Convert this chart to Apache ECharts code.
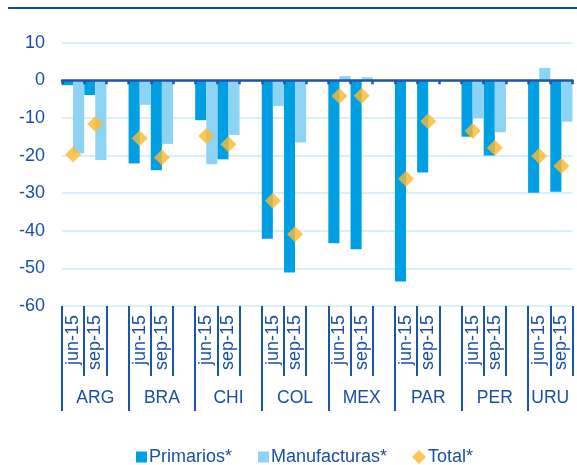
<!DOCTYPE html>
<html>
<head>
<meta charset="utf-8">
<script src="https://cdn.jsdelivr.net/npm/echarts@6/dist/echarts.min.js"></script>
<style>
  html, body { margin: 0; padding: 0; background: #ffffff; }
  #chart { width: 577px; height: 465px; }
</style>
</head>
<body>
<div id="chart"></div>
<script>
// Countries and the two periods shown for each of them
const countries = ['ARG', 'BRA', 'CHI', 'COL', 'MEX', 'PAR', 'PER', 'URU'];
const periods = ['jun-15', 'sep-15'];

// Values per country, in period order (jun-15, sep-15)
const primarios = [
  -1.3, -3.9,
  -22.1, -23.9,
  -10.6, -21.0,
  -42.1, -51.1,
  -43.3, -44.9,
  -53.5, -24.5,
  -15.0, -20.0,
  -29.9, -29.6
];
const manufacturas = [
  -19.4, -21.2,
  -6.5, -16.9,
  -22.3, -14.5,
  -6.8, -16.5,
  1.1, 0.8,
  null, null,
  -10.1, -13.8,
  3.3, -11.0
];
const total = [
  -19.7, -11.6,
  -15.4, -20.5,
  -14.8, -17.0,
  -32.0, -40.9,
  -4.2, -4.1,
  -26.2, -10.9,
  -13.5, -17.9,
  -20.1, -22.8
];

// Value axis ticks
const yTicks = { min: -60, max: 10, step: 10 };

// Legend entries
const seriesNames = ['Primarios*', 'Manufacturas*', 'Total*'];

// Slot layout: jun, sep, then an empty spacer between countries
const slots = [];
const slotPeriod = [];
const primSlots = [], manuSlots = [], totalSlots = [];
countries.forEach((c, ci) => {
  periods.forEach((p, pi) => {
    const k = ci * periods.length + pi;
    slots.push(c + ' ' + p);
    slotPeriod.push(p);
    primSlots.push(primarios[k]);
    manuSlots.push(manufacturas[k]);
    totalSlots.push(total[k]);
  });
  if (ci < countries.length - 1) {
    slots.push(c + ' ');
    slotPeriod.push('');
    primSlots.push(null);
    manuSlots.push(null);
    totalSlots.push(null);
  }
});

// Country group boundaries and label centres, in slot units
const groupStarts = [];
const groupCentres = {};
let pos = 0;
countries.forEach((c, ci) => {
  const width = periods.length + (ci < countries.length - 1 ? 1 : 0);
  groupStarts.push(pos);
  groupCentres[pos + width / 2] = c;
  pos += width;
});

const TEXT = '#1C4FA3';
const LINE = '#1A55AA';
const FONT = '"Liberation Sans", Arial, sans-serif';

// One legend block per entry so each can sit at its own place
const legendLefts = [131, 253, 407];
const legendIcons = ['rect', 'rect', 'diamond'];
const legends = seriesNames.map((name, i) => ({
  left: legendLefts[i],
  top: 443,
  itemWidth: i === 2 ? 14 : 11,
  itemHeight: i === 2 ? 14 : 11,
  textStyle: { fontFamily: FONT, fontSize: 18, color: TEXT, padding: [0, 0, 0, -3] },
  data: [{ name: name, icon: legendIcons[i] }]
}));

const chart = echarts.init(document.getElementById('chart'));
chart.setOption({
  animation: false,
  backgroundColor: '#ffffff',
  textStyle: { fontFamily: FONT },
  graphic: [{
    type: 'line',
    shape: { x1: 8, y1: 8, x2: 577, y2: 8 },
    style: { stroke: '#0D50A0', lineWidth: 2 }
  }],
  grid: { left: 62, right: 4.5, top: 42.7, bottom: 159 },
  legend: legends,
  xAxis: [
    {
      // Zero line with short boundary ticks
      type: 'category',
      data: slots,
      axisLine: { onZero: true, lineStyle: { color: '#1F56A8', width: 2.5 } },
      axisTick: { show: true, interval: 0, length: 4, lineStyle: { color: '#1F56A8', width: 2.5 } },
      axisLabel: { show: false },
      splitLine: { show: false },
      z: 5
    },
    {
      // Period labels under the plot
      type: 'category',
      data: slots,
      position: 'bottom',
      axisLine: { show: false, onZero: false },
      axisTick: { show: true, interval: 0, length: 70, lineStyle: { color: LINE, width: 2 } },
      axisLabel: {
        interval: 0,
        rotate: 90,
        margin: 9,
        fontSize: 18,
        fontFamily: FONT,
        color: TEXT,
        formatter: (v, i) => slotPeriod[i]
      },
      splitLine: { show: false }
    },
    {
      // Country groups
      type: 'value',
      min: 0,
      max: slots.length,
      position: 'bottom',
      axisLine: { show: false, onZero: false },
      axisTick: {
        show: true,
        customValues: groupStarts,
        length: 105,
        lineStyle: { color: LINE, width: 2 }
      },
      axisLabel: {
        customValues: Object.keys(groupCentres).map(Number),
        margin: 83,
        fontSize: 17.5,
        fontFamily: FONT,
        color: TEXT,
        formatter: v => groupCentres[v] || ''
      },
      splitLine: { show: false }
    }
  ],
  yAxis: {
    type: 'value',
    min: yTicks.min,
    max: yTicks.max,
    interval: yTicks.step,
    axisLine: { show: false },
    axisTick: { show: false },
    axisLabel: { fontSize: 18, fontFamily: FONT, color: TEXT, margin: 17 },
    splitLine: { lineStyle: { color: '#CDEBF8', width: 1.5 } }
  },
  series: [
    {
      name: seriesNames[0],
      type: 'bar',
      xAxisIndex: 0,
      data: primSlots,
      barGap: '0%',
      barCategoryGap: '0%',
      itemStyle: { color: '#009FE3' }
    },
    {
      name: seriesNames[1],
      type: 'bar',
      xAxisIndex: 0,
      data: manuSlots,
      barGap: '0%',
      barCategoryGap: '0%',
      itemStyle: { color: '#8DD3F3' }
    },
    {
      name: seriesNames[2],
      type: 'scatter',
      xAxisIndex: 0,
      data: totalSlots,
      symbol: 'diamond',
      symbolSize: 16,
      itemStyle: { color: '#FDB92E' },
      z: 10
    }
  ]
});
</script>
</body>
</html>
